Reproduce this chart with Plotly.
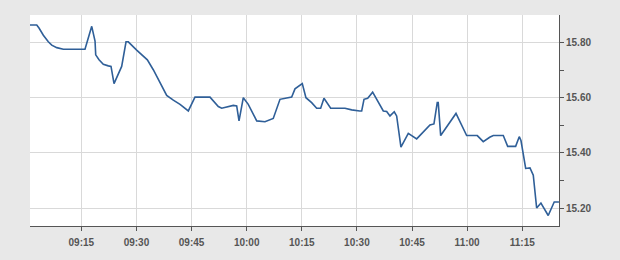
import plotly.graph_objects as go

day = "2024-01-02 "
times = ["09:01:02","09:02:52","09:03:29","09:04:40","09:06:01","09:06:57","09:08:19","09:10:06",
         "09:16:00","09:17:50","09:18:44","09:18:55","09:19:49","09:20:59","09:22:21","09:23:05",
         "09:23:54","09:25:59","09:27:10","09:27:47","09:30:04","09:31:26","09:32:58","09:34:35",
         "09:36:53","09:38:14","09:40:02","09:41:52","09:44:07","09:45:56","09:50:01","09:52:17",
         "09:53:12","09:56:22","09:57:17","09:57:55","09:59:05","10:00:26","10:02:44","10:04:59",
         "10:07:14","10:09:04","10:10:53","10:12:15","10:13:09","10:14:03","10:15:08","10:16:08",
         "10:17:41","10:19:03","10:20:08","10:21:02","10:22:52","10:26:45","10:28:35","10:30:46",
         "10:31:18","10:31:56","10:32:56","10:34:17","10:37:11","10:38:06","10:39:00","10:40:10",
         "10:40:49","10:41:59","10:43:59","10:46:16","10:48:26","10:49:53","10:50:58","10:51:52",
         "10:52:08","10:52:48","10:56:58","10:59:52","11:02:46","11:04:23","11:06:08","11:07:07",
         "11:09:50","11:11:02","11:13:12","11:14:11","11:14:39","11:15:56","11:17:06","11:18:00",
         "11:18:55","11:20:05","11:22:04","11:23:42","11:24:59"]
prices = [15.863,15.863,15.852,15.826,15.802,15.790,15.781,15.775,
          15.775,15.858,15.805,15.755,15.737,15.721,15.715,15.713,
          15.651,15.713,15.802,15.802,15.772,15.755,15.737,15.701,
          15.641,15.608,15.591,15.576,15.552,15.602,15.602,15.568,
          15.562,15.572,15.570,15.516,15.600,15.576,15.516,15.513,
          15.525,15.594,15.599,15.602,15.632,15.641,15.651,15.600,
          15.582,15.562,15.562,15.598,15.562,15.562,15.556,15.552,
          15.552,15.594,15.598,15.620,15.552,15.550,15.534,15.549,
          15.534,15.421,15.471,15.451,15.481,15.501,15.505,15.582,
          15.582,15.463,15.543,15.463,15.463,15.441,15.457,15.463,
          15.463,15.424,15.424,15.459,15.445,15.344,15.346,15.320,
          15.201,15.219,15.174,15.223,15.223]

x = [day + t for t in times]

fig = go.Figure(go.Scatter(x=x, y=prices, mode="lines",
                           line=dict(color="#2f5f98", width=1.6),
                           hoverinfo="skip"))

tickfont = dict(family="Liberation Sans, Arial, sans-serif", size=10, color="#555555", weight="bold")

fig.update_layout(
    width=620, height=260,
    margin=dict(l=30, r=61, t=15, b=32),
    paper_bgcolor="#e8e8e8",
    plot_bgcolor="#ffffff",
    showlegend=False,
    xaxis=dict(
        range=[day + "09:01:02", day + "11:25:00"],
        type="date",
        tick0=day + "09:00:00", dtick=900000,
        tickformat="%H:%M",
        showgrid=True, gridcolor="#d9d9d9", gridwidth=1,
        showline=True, linecolor="#555555", linewidth=1,
        ticks="outside", ticklen=4, tickcolor="#555555",
        tickfont=tickfont, ticklabelstandoff=3,
        zeroline=False, fixedrange=True,
    ),
    yaxis=dict(
        side="right",
        range=[15.136, 15.899],
        tick0=15.2, dtick=0.2,
        tickformat=".2f",
        showgrid=True, gridcolor="#d9d9d9", gridwidth=1,
        showline=True, linecolor="#555555", linewidth=1,
        ticks="outside", ticklen=4, tickcolor="#555555",
        minor=dict(dtick=0.1, tick0=15.1, ticks="outside", ticklen=4, tickcolor="#555555", showgrid=False),
        tickfont=tickfont,
        zeroline=False, fixedrange=True,
    ),
)

fig.write_html("out.html")
